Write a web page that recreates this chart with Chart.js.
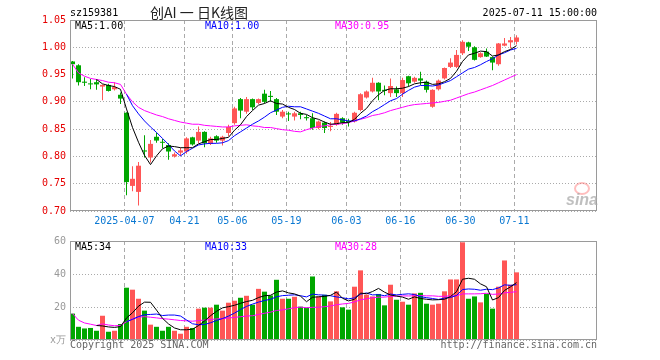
<!DOCTYPE html>
<html><head><meta charset="utf-8">
<script src="https://cdn.jsdelivr.net/npm/chart.js@4.4.1/dist/chart.umd.min.js"></script>
<style>
html,body{margin:0;padding:0;background:#fff;width:660px;height:360px;overflow:hidden}
#wrap{position:relative;width:660px;height:360px}
canvas{position:absolute;left:0}
.t{position:absolute;font:10px/10px "DejaVu Sans Mono",monospace;white-space:pre}
.eye{position:absolute;left:574px;top:182px;width:12px;height:9px;border:2px solid rgba(255,110,110,0.45);border-radius:50%}
</style></head><body><div id="wrap">
<canvas id="k" width="660" height="230" style="top:0"></canvas>
<canvas id="v" width="660" height="130" style="top:230px"></canvas>
<div class="t" style="left:70px;top:8px;color:#000">sz159381</div>
<div class="t" style="left:150px;top:5px;font:14px/14px 'Noto Sans CJK SC',sans-serif;color:#222">创AI 一 日K线图</div>
<div class="t" style="right:63px;top:8px;color:#000">2025-07-11 15:00:00</div>
<div class="t" style="left:75px;top:21px;color:#000">MA5:1.00</div>
<div class="t" style="left:205px;top:21px;color:#0000ff">MA10:1.00</div>
<div class="t" style="left:335px;top:21px;color:#ff00ff">MA30:0.95</div>
<div class="t" style="left:75px;top:242px;color:#000">MA5:34</div>
<div class="t" style="left:205px;top:242px;color:#0000ff">MA10:33</div>
<div class="t" style="left:335px;top:242px;color:#ff00ff">MA30:28</div>
<div class="t" style="left:70px;top:340px;color:#666">Copyright 2025 SINA.COM</div>
<div class="t" style="right:63px;top:340px;color:#666">http://finance.sina.com.cn</div>
<div class="eye"></div>
<div class="t" style="left:566px;top:192px;font:bold italic 16px/16px 'Liberation Sans',sans-serif;color:rgba(170,170,170,0.75)">sina</div>
</div>
<script>
const dates = ['2025-03-24','2025-03-25','2025-03-26','2025-03-27','2025-03-28','2025-03-31','2025-04-01','2025-04-02','2025-04-03',
'2025-04-07','2025-04-08','2025-04-09','2025-04-10','2025-04-11','2025-04-14','2025-04-15','2025-04-16','2025-04-17','2025-04-18',
'2025-04-21','2025-04-22','2025-04-23','2025-04-24','2025-04-25','2025-04-28','2025-04-29','2025-04-30',
'2025-05-06','2025-05-07','2025-05-08','2025-05-09','2025-05-12','2025-05-13','2025-05-14','2025-05-15','2025-05-16',
'2025-05-19','2025-05-20','2025-05-21','2025-05-22','2025-05-23','2025-05-26','2025-05-27','2025-05-28','2025-05-29','2025-05-30',
'2025-06-03','2025-06-04','2025-06-05','2025-06-06','2025-06-09','2025-06-10','2025-06-11','2025-06-12','2025-06-13',
'2025-06-16','2025-06-17','2025-06-18','2025-06-19','2025-06-20','2025-06-23','2025-06-24','2025-06-25','2025-06-26','2025-06-27',
'2025-06-30','2025-07-01','2025-07-02','2025-07-03','2025-07-04','2025-07-07','2025-07-08','2025-07-09','2025-07-10','2025-07-11'];

const open  = [0.974,0.967,0.937,0.933,0.936,0.928,0.931,0.923,0.913,0.880,0.746,0.735,0.811,0.798,0.836,0.826,0.821,0.800,0.807,0.809,
0.835,0.829,0.845,0.823,0.837,0.829,0.843,0.861,0.905,0.882,0.905,0.898,0.915,0.911,0.905,0.873,0.878,0.873,0.879,0.872,
0.870,0.852,0.862,0.854,0.858,0.870,0.865,0.864,0.885,0.908,0.919,0.935,0.922,0.916,0.923,0.916,0.947,0.937,0.943,0.937,
0.891,0.923,0.943,0.964,0.964,0.989,1.009,1.000,0.982,0.992,0.982,0.969,1.003,1.009,1.010];
const high  = [0.975,0.969,0.945,0.942,0.942,0.932,0.933,0.936,0.917,0.881,0.782,0.790,0.839,0.830,0.844,0.832,0.824,0.807,0.816,0.835,
0.836,0.855,0.846,0.836,0.839,0.838,0.858,0.891,0.907,0.909,0.906,0.906,0.922,0.920,0.907,0.885,0.882,0.882,0.882,0.876,
0.879,0.866,0.864,0.863,0.880,0.872,0.869,0.882,0.916,0.921,0.944,0.936,0.930,0.943,0.928,0.944,0.948,0.946,0.955,0.939,
0.923,0.941,0.963,0.980,0.995,1.013,1.010,1.002,0.991,0.998,0.983,1.008,1.017,1.019,1.022];
const low   = [0.943,0.930,0.929,0.923,0.922,0.903,0.919,0.921,0.896,0.729,0.736,0.710,0.798,0.789,0.825,0.815,0.794,0.798,0.801,0.805,
0.820,0.824,0.817,0.821,0.825,0.820,0.837,0.858,0.870,0.878,0.885,0.896,0.897,0.900,0.876,0.870,0.865,0.866,0.868,0.866,
0.849,0.850,0.843,0.846,0.856,0.858,0.855,0.862,0.883,0.906,0.917,0.903,0.912,0.909,0.909,0.909,0.928,0.935,0.931,0.917,
0.889,0.921,0.941,0.962,0.962,0.986,0.993,0.976,0.981,0.982,0.958,0.966,1.002,0.998,1.005];
const close = [0.969,0.936,0.935,0.932,0.932,0.931,0.920,0.927,0.906,0.753,0.759,0.783,0.809,0.823,0.829,0.825,0.809,0.804,0.811,0.833,
0.822,0.845,0.824,0.833,0.829,0.836,0.854,0.888,0.884,0.905,0.890,0.905,0.900,0.909,0.882,0.882,0.877,0.879,0.876,0.870,
0.852,0.864,0.852,0.856,0.878,0.862,0.863,0.880,0.914,0.919,0.935,0.919,0.920,0.929,0.916,0.940,0.934,0.944,0.939,0.922,
0.922,0.939,0.962,0.972,0.986,1.010,1.001,0.977,0.989,0.983,0.972,1.007,1.007,1.013,1.018];

const ma5 = [null,null,null,null,0.941,0.933,0.930,0.928,0.923,0.887,0.853,0.826,0.802,0.785,0.801,0.814,0.819,0.818,0.816,0.816,
0.816,0.823,0.827,0.831,0.831,0.833,0.835,0.848,0.858,0.873,0.884,0.894,0.897,0.902,0.897,0.896,0.890,0.886,0.879,0.877,
0.871,0.868,0.863,0.859,0.860,0.862,0.862,0.868,0.879,0.888,0.902,0.913,0.921,0.924,0.924,0.925,0.928,0.933,0.935,0.936,
0.932,0.933,0.937,0.943,0.956,0.974,0.986,0.989,0.993,0.992,0.984,0.986,0.992,0.996,1.003];
const ma10 = [null,null,null,null,null,null,null,null,null,0.914,0.893,0.878,0.865,0.854,0.844,0.833,0.822,0.810,0.801,0.809,
0.815,0.821,0.823,0.824,0.824,0.825,0.829,0.838,0.845,0.852,0.859,0.865,0.872,0.880,0.885,0.890,0.892,0.891,0.891,0.887,
0.883,0.879,0.874,0.869,0.869,0.867,0.865,0.865,0.869,0.874,0.882,0.888,0.895,0.902,0.906,0.914,0.921,0.927,0.930,0.930,
0.929,0.931,0.935,0.939,0.946,0.953,0.960,0.963,0.968,0.974,0.979,0.986,0.990,0.995,0.998];
const ma30 = [0.969,0.953,0.947,0.943,0.941,0.939,0.936,0.935,0.932,0.914,0.900,0.890,0.884,0.880,0.876,0.873,0.869,0.866,0.863,0.861,
0.859,0.859,0.857,0.856,0.855,0.854,0.854,0.856,0.857,0.858,0.856,0.855,0.853,0.853,0.851,0.849,0.848,0.846,0.845,0.849,
0.852,0.855,0.856,0.858,0.859,0.860,0.862,0.865,0.868,0.871,0.875,0.877,0.880,0.884,0.887,0.890,0.893,0.895,0.896,0.897,
0.898,0.899,0.901,0.903,0.907,0.911,0.915,0.918,0.922,0.926,0.930,0.935,0.940,0.945,0.950];

const volume = [16,8,7,7.3,5.6,14.7,5,5.6,9.7,31.7,30.5,25,17.8,9.3,8,5.6,8,5.6,3.8,8,
7.3,19,19.6,19.6,21.4,17.8,22.6,23.8,25.6,26.8,21.4,31,29.3,27,36.5,25,25,26.2,20.2,19.6,
38.5,26.4,27.4,23.4,29.5,19.8,18.4,32.3,42.2,27.5,26.4,27.9,21,33.5,24.4,23.2,21.4,28.2,28.6,22,
21.4,22,29.5,36.7,36.7,59.2,25,26.4,22.8,28,19,32.3,48.2,33.5,41];
const vma5 = [null,null,null,null,8.78,8.52,7.92,7.64,8.12,13.34,16.5,20.5,22.94,22.86,18.12,13.14,9.74,7.3,6.2,6.2,
6.54,8.74,11.54,14.7,17.38,19.48,20.2,21.04,22.24,23.32,24.04,25.72,26.82,27.1,29.04,29.76,28.56,27.94,26.58,23.2,
25.9,26.18,26.42,27.06,29.04,25.3,23.7,24.68,28.44,28.04,29.36,31.26,29,27.26,26.64,26,24.7,26.14,25.16,24.68,
24.32,24.44,24.7,26.32,29.26,36.82,37.42,36.8,34.02,32.28,24.24,25.7,30.06,32.2,34.8];
const vma10 = [null,null,null,null,null,null,null,null,null,11.06,12.51,14.21,15.29,15.49,15.73,14.82,15.12,15.12,14.53,12.16,
9.84,9.24,9.42,10.45,11.79,13.01,14.47,16.29,18.47,20.35,21.76,22.96,23.93,24.67,26.18,26.9,27.14,27.38,26.84,26.12,
27.83,27.37,27.18,26.82,26.12,25.6,24.94,25.55,27.75,28.54,27.33,27.48,26.84,27.85,27.34,27.68,27.98,27.57,26.21,25.66,
25.16,24.57,25.42,25.74,26.97,30.57,30.93,30.75,30.17,30.77,30.53,31.56,33.43,33.11,33.54];
const vma30 = [16,12,10.33,9.58,8.78,9.77,9.09,8.65,8.77,11.06,12.83,13.84,14.15,13.8,13.41,12.93,12.64,12.24,11.8,11.61,
11.4,11.75,12.09,12.4,12.76,12.96,13.31,13.69,14.1,14.52,14.7,15.47,16.21,16.87,17.9,18.24,18.91,19.6,19.95,19.54,
19.81,19.86,20.18,20.65,21.36,21.84,22.18,23.07,24.35,25.0,25.64,25.94,25.98,26.45,26.55,26.73,26.69,26.83,26.93,26.77,
26.77,26.47,26.48,26.8,26.81,27.95,27.95,27.96,28.04,28.32,27.67,27.87,28.56,28.9,29.28];

const tickDates  = ['2025-04-07','2025-04-21','2025-05-06','2025-05-19','2025-06-03','2025-06-16','2025-06-30','2025-07-11'];
const tickLabels = ['2025-04-07','04-21','05-06','05-19','06-03','06-16','06-30','07-11'];
const priceTicks = [0.70,0.75,0.80,0.85,0.90,0.95,1.00,1.05];
const volTicks   = [0,20,40,60];

const RED = '#ff5656', GREEN = '#00a600';
const tickIdx = tickDates.map(d => dates.indexOf(d));
const colors = close.map((c,i) => c >= open[i] ? RED : GREEN);
const MONO = '"DejaVu Sans Mono", monospace';
Chart.defaults.font.family = MONO;
Chart.defaults.font.size = 10;

const frame = {id:'frame', afterDraw(c){
  const {ctx, chartArea:a} = c;
  ctx.save(); ctx.strokeStyle = '#9a9a9a'; ctx.lineWidth = 1;
  ctx.strokeRect(a.left+0.5, a.top+0.5, a.right-a.left-1, a.bottom-a.top-1);
  ctx.restore();
}};

function xAxis(showLabels){
  return {
    type:'linear', bounds:'data', offset:false, min:-2.5/6, max:-2.5/6 + 527/6,
    afterBuildTicks: s => { s.ticks = tickIdx.map(i => ({value: i - 0.35})); },
    afterFit: s => { s.height = showLabels ? 19 : 0; },
    grid:{color:'#aaaaaa', lineWidth:1, drawTicks:false, offset:false},
    border:{display:false, dash:[4,3]},
    ticks:{display:showLabels, autoSkip:false, maxRotation:0, minRotation:0, padding:4, color:'#0a78d2',
      font:{family:MONO, size:10}, callback:(v,k) => tickLabels[k]}
  };
}
function yAxis(ticksArr, color, fmt, min, max){
  return {
    min, max, bounds:'data',
    afterBuildTicks: s => { s.ticks = ticksArr.map(v => ({value:v})); },
    afterFit: s => { s.width = 70; },
    grid:{color:'#aaaaaa', lineWidth:1, drawTicks:false},
    border:{display:false, dash:[1,2]},
    ticks:{color, padding:4, font:{family:MONO, size:10}, callback: fmt}
  };
}
const line = (arr, color) => ({type:'line', data: arr.map((v,i)=>({x:i,y:v})), borderColor:color, borderWidth:1,
  pointRadius:0, fill:false, tension:0, order:0, spanGaps:false});

new Chart(document.getElementById('k'), {
  type:'bar',
  data:{datasets:[
    line(ma5,'#000000'), line(ma10,'#0000ff'), line(ma30,'#ff00ff'),
    {data: dates.map((d,i)=>({x:i, y:[low[i], high[i]]})), backgroundColor:colors, barThickness:1, grouped:false,
      minBarLength:1, inflateAmount:0, borderWidth:0, order:2},
    {data: dates.map((d,i)=>({x:i, y:[open[i], close[i]]})), backgroundColor:colors, barThickness:5, grouped:false,
      minBarLength:1, inflateAmount:0, borderWidth:0, order:1}
  ]},
  options:{responsive:false, animation:false, events:[],
    layout:{padding:{top:20, right:63, left:0, bottom:0}},
    plugins:{legend:{display:false}, tooltip:{enabled:false}},
    scales:{x:xAxis(true), y:yAxis(priceTicks, '#e60000', v => v.toFixed(2), 0.70, 1.05)}
  },
  plugins:[frame]
});

new Chart(document.getElementById('v'), {
  type:'bar',
  data:{datasets:[
    line(vma5,'#000000'), line(vma10,'#0000ff'), line(vma30,'#ff00ff'),
    {data: volume.map((v,i)=>({x:i, y:v})), backgroundColor:colors, barThickness:5, grouped:false,
      inflateAmount:0, borderWidth:0, order:1}
  ]},
  options:{responsive:false, animation:false, events:[],
    layout:{padding:{top:11, right:63, left:0, bottom:20}},
    plugins:{legend:{display:false}, tooltip:{enabled:false}},
    scales:{x:xAxis(false), y:yAxis(volTicks, '#999999', v => v === 0 ? 'x万' : String(v), 0, 60)}
  },
  plugins:[frame]
});
</script>
</body></html>
